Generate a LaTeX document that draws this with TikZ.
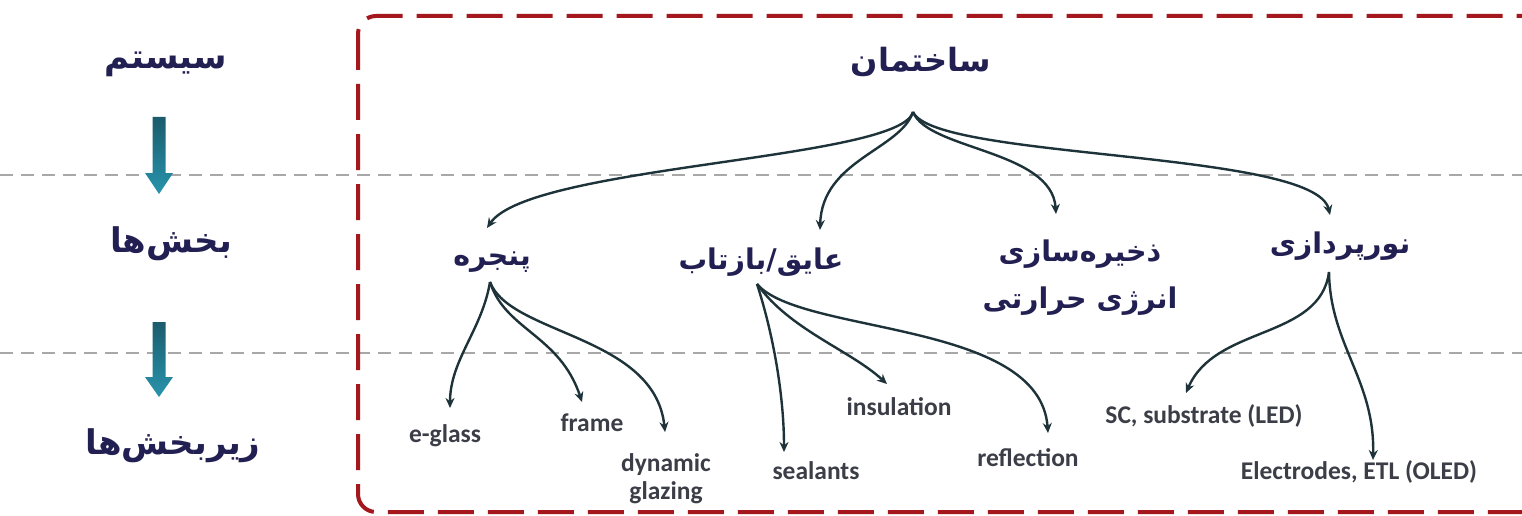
\documentclass[tikz,border=0pt]{standalone}
\usepackage{fontspec}
\usetikzlibrary{arrows.meta}
\TeXXeTstate=1
\newfontfamily\fafont[Script=Arabic]{DejaVu Sans}
\newfontfamily\enfont{Carlito}
\definecolor{navy}{HTML}{221F52}
\definecolor{engray}{HTML}{3B3E47}
\definecolor{linkcol}{HTML}{1D3339}
\definecolor{boxred}{HTML}{A3171D}
\definecolor{guide}{HTML}{A8A8A8}
\definecolor{tealdark}{HTML}{1B5C6C}
\definecolor{teallight}{HTML}{2894AD}
\newcommand{\fa}[1]{\beginR #1\endR}
\tikzset{
  level0/.style={font=\fafont\bfseries\fontsize{32}{38}\selectfont, text=navy, inner sep=0pt},
  level1/.style={font=\fafont\bfseries\fontsize{28.5}{47}\selectfont, text=navy, inner sep=0pt, align=center},
  side/.style={font=\fafont\bfseries\fontsize{34}{40}\selectfont, text=navy, inner sep=0pt},
  leaf/.style={font=\enfont\bfseries\fontsize{25.5}{28}\selectfont, text=engray, inner sep=0pt, align=center},
  link/.style={draw=linkcol, line width=2.4pt, -{Stealth[length=10pt,width=9pt]}},
  guideline/.style={draw=guide, line width=1.5pt, dash pattern=on 13pt off 8pt},
  framebox/.style={draw=boxred, line width=4pt, dash pattern=on 36pt off 14pt, rounded corners=18pt},
  levelarrow/.style={top color=tealdark, bottom color=teallight, draw=none}
}
\begin{document}
\begin{tikzpicture}[x=1pt, y=-1pt]
  \useasboundingbox (0,0) rectangle (1522,516);
  \fill[white] (0,0) rectangle (1522,516);
  \clip (0,0) rectangle (1522,516);

  % level separators
  \draw[guideline] (0,175) -- (1522,175);
  \draw[guideline] (0,353) -- (1522,353);

  % dashed frame around the building hierarchy (open to the right)
  \draw[framebox] (358,16) rectangle (1580,512);

  % level names on the left
  \node[side] (sys) at (166,64) {\fa{سیستم}};
  \node[side] (parts) at (171,244) {\fa{بخش^^^^200cها}};
  \node[side] (subparts) at (173,446) {\fa{زیربخش^^^^200cها}};

  % level arrows
  \shade[levelarrow] (152.5,117) -- (165.5,117) -- (165.5,173) -- (173,173) -- (159,194) -- (145,173) -- (152.5,173) -- cycle;
  \shade[levelarrow] (152.5,322) -- (165.5,322) -- (165.5,377) -- (173,377) -- (159,397) -- (145,377) -- (152.5,377) -- cycle;

  % root
  \node[level0] (building) at (921,62) {\fa{ساختمان}};
  \coordinate (rootfork) at (913,112);

  % components
  \node[level1] (window) at (492,262) {\fa{پنجره}};
  \node[level1] (insul) at (761,262) {\fa{عایق/بازتاب}};
  \node[level1] (storage) at (1080,278) {\fa{ذخیره^^^^200cسازی}\\\fa{انرژی حرارتی}};
  \node[level1] (light) at (1340,246) {\fa{نورپردازی}};

  \coordinate (windowtip) at (487,228);
  \coordinate (insultip) at (820,230);
  \coordinate (storagetip) at (1056,214);
  \coordinate (lighttip) at (1330,215);

  \draw[link] (rootfork) .. controls (900,160) and (530,165) .. (windowtip);
  \draw[link] (rootfork) .. controls (900,150) and (822,160) .. (insultip);
  \draw[link] (rootfork) .. controls (928,150) and (1052,150) .. (storagetip);
  \draw[link] (rootfork) .. controls (935,160) and (1315,150) .. (lighttip);

  % sub-components
  \coordinate (windowfork) at (490,282);
  \coordinate (insulfork) at (757,284);
  \coordinate (lightfork) at (1329,272);

  \node[leaf] (eglass) at (445,436) {e-glass};
  \node[leaf] (frame) at (592,423) {frame};
  \node[leaf] (dyn) at (666,479) {dynamic\\glazing};
  \node[leaf] (seal) at (816,471) {sealants};
  \node[leaf] (insulation) at (899,407) {insulation};
  \node[leaf] (reflect) at (1028,458) {reflection};
  \node[leaf] (led) at (1204,416) {SC, substrate (LED)};
  \node[leaf] (oled) at (1359,472) {Electrodes, ETL (OLED)};

  \coordinate (eglasstip) at (450,408);
  \coordinate (frametip) at (582,402);
  \coordinate (dyntip) at (665,432);
  \coordinate (sealtip) at (784,452);
  \coordinate (insulationtip) at (887,384);
  \coordinate (reflecttip) at (1048,433);
  \coordinate (ledtip) at (1186,393);
  \coordinate (oledtip) at (1373,460);

  \draw[link] (windowfork) .. controls (482,330) and (450,360) .. (eglasstip);
  \draw[link] (windowfork) .. controls (505,330) and (560,335) .. (frametip);
  \draw[link] (windowfork) .. controls (510,335) and (655,335) .. (dyntip);

  \draw[link] (insulfork) .. controls (775,340) and (784,400) .. (sealtip);
  \draw[link] (insulfork) .. controls (790,330) and (850,350) .. (insulationtip);
  \draw[link] (insulfork) .. controls (800,335) and (1040,320) .. (reflecttip);

  \draw[link] (lightfork) .. controls (1320,340) and (1215,325) .. (ledtip);
  \draw[link] (lightfork) .. controls (1330,345) and (1375,380) .. (oledtip);
\end{tikzpicture}
\end{document}
